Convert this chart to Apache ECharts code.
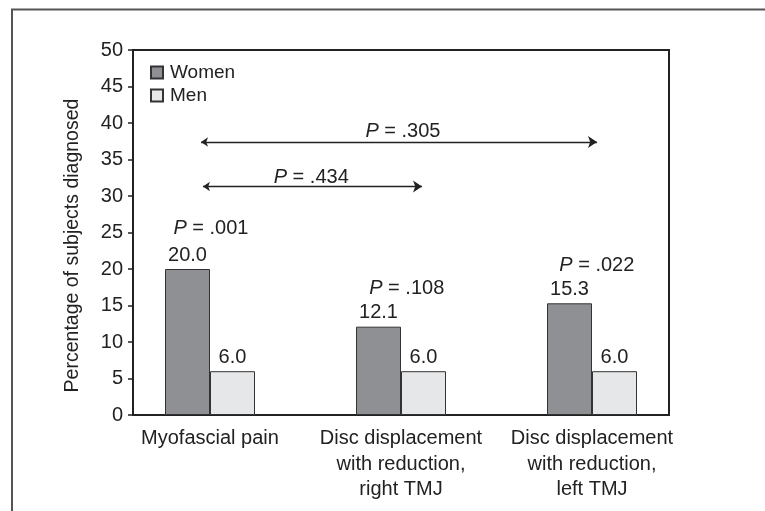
<!DOCTYPE html>
<html>
<head>
<meta charset="utf-8">
<script src="https://cdn.jsdelivr.net/npm/echarts@6/dist/echarts.min.js"></script>
<style>
html,body{margin:0;padding:0;background:#fff;}
#chart{width:765px;height:511px;}
</style>
</head>
<body>
<div id="chart"></div>
<script>
// ---- data ----
const categories = ['Myofascial pain', 'Disc displacement\nwith reduction,\nright TMJ', 'Disc displacement\nwith reduction,\nleft TMJ'];
const women = [20.0, 12.1, 15.3];
const men = [6.0, 6.0, 6.0];
const seriesNames = ['Women', 'Men'];
const yMin = 0, yMax = 50, yStep = 5;
// group-wise P values (women vs men), positioned in group units / percent
const groupP = ['.001', '.108', '.022'];
const groupPX = [0.005, 1.03, 2.025];
const groupPY = [25.6, 17.3, 20.5];
// between-condition comparisons (arrows)
const pairP = ['.305', '.434'];
const pairFrom = [-0.047, -0.037];
const pairTo = [2.026, 1.11];
const pairY = [37.4, 31.3];
const pairLabelX = [1.01, 0.53];
const pairLabelY = [38.9, 32.6];

const FONT = '"Liberation Sans", Arial, Helvetica, sans-serif';
const TXT = '#222';

const chart = echarts.init(document.getElementById('chart'), null, {renderer: 'canvas'});

const pointLabels = groupP.map((p, i) => ({ value: [groupPX[i], groupPY[i]], name: '{i|P} = ' + p }));
pairP.forEach((p, i) => pointLabels.push({ value: [pairLabelX[i], pairLabelY[i]], name: '{i|P} = ' + p }));

const arrows = pairP.map((p, i) => ({ coords: [[pairFrom[i], pairY[i]], [pairTo[i], pairY[i]]] }));

const option = {
  backgroundColor: '#fff',
  animation: false,
  textStyle: { fontFamily: FONT },
  graphic: [
    { type: 'polyline', shape: { points: [[12, 511], [12, 9.5], [765, 9.5]] },
      style: { stroke: '#555', lineWidth: 2, fill: null }, silent: true }
  ],
  legend: {
    orient: 'vertical',
    left: 145, top: 58,
    itemWidth: 12, itemHeight: 12, itemGap: 4,
    icon: 'rect',
    data: seriesNames,
    textStyle: { fontSize: 19, color: TXT, fontFamily: FONT, padding: [0, 0, 0, 2] }
  },
  grid: [
    { left: 114.5, width: 573, top: 50, height: 365 },
    { left: 133, width: 536, top: 50, height: 365, show: true, borderColor: '#222', borderWidth: 2, backgroundColor: 'transparent' }
  ],
  xAxis: [
    { type: 'category', gridIndex: 0, data: categories,
      axisLine: { show: false }, axisTick: { show: false },
      axisLabel: { fontSize: 20, color: TXT, lineHeight: 25.5, margin: 11, fontFamily: FONT, interval: 0 } },
    { type: 'value', gridIndex: 0, min: -0.5, max: 2.5, show: false },
    { type: 'value', gridIndex: 1, min: 0, max: 1, show: false }
  ],
  yAxis: [
    { type: 'value', gridIndex: 0, min: yMin, max: yMax, show: false },
    { type: 'value', gridIndex: 1, min: yMin, max: yMax, interval: yStep,
      name: 'Percentage of subjects diagnosed', nameLocation: 'middle', nameGap: 50,
      nameTextStyle: { fontSize: 19.5, color: TXT, fontFamily: FONT, padding: [0, 26, 0, 0] },
      axisLine: { show: false },
      axisTick: { show: true, inside: false, length: 5, lineStyle: { color: '#222', width: 1.5 } },
      axisLabel: { fontSize: 20, color: TXT, margin: 10, fontFamily: FONT },
      splitLine: { show: false } }
  ],
  series: [
    { name: seriesNames[0], type: 'bar', xAxisIndex: 0, yAxisIndex: 0, data: women,
      barWidth: 45, barGap: '0%',
      itemStyle: { color: '#8f9094', borderColor: '#333', borderWidth: 1 },
      label: { show: true, position: 'top', distance: 4, fontSize: 20, color: TXT, fontFamily: FONT,
               formatter: p => p.value.toFixed(1) } },
    { name: seriesNames[1], type: 'bar', xAxisIndex: 0, yAxisIndex: 0, data: men,
      barWidth: 45, barGap: '0%',
      itemStyle: { color: '#e6e7e9', borderColor: '#333', borderWidth: 1 },
      label: { show: true, position: 'top', distance: 4, fontSize: 20, color: TXT, fontFamily: FONT,
               formatter: p => p.value.toFixed(1) } },
    { type: 'lines', coordinateSystem: 'cartesian2d', xAxisIndex: 1, yAxisIndex: 0,
      data: arrows, symbol: ['arrow', 'arrow'], symbolSize: [7, 9],
      lineStyle: { color: '#222', width: 1.3, opacity: 1 }, silent: true, z: 5 },
    { type: 'scatter', xAxisIndex: 1, yAxisIndex: 0, data: pointLabels,
      symbolSize: 1, itemStyle: { color: 'rgba(0,0,0,0)' }, silent: true,
      label: { show: true, position: 'inside', formatter: p => p.name,
               fontSize: 20, color: TXT, fontFamily: FONT, opacity: 1,
               rich: { i: { fontStyle: 'italic', fontSize: 20, color: TXT, fontFamily: FONT } } } }
  ]
};
chart.setOption(option);
</script>
</body>
</html>
